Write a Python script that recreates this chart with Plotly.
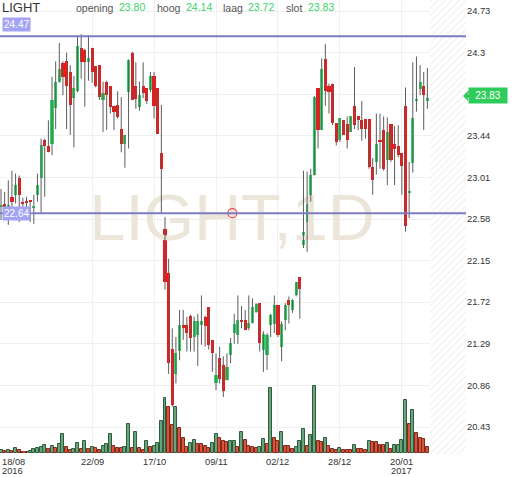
import plotly.graph_objects as go

# ---------------- data ----------------
open_ = [22.71, 22.74, 22.69, 22.81, 22.83, 23.00, 22.76, 22.77, 22.77, 22.70,
         22.83, 23.00, 23.40, 23.33, 23.36, 23.73, 24.00, 24.19, 24.21, 24.10,
         23.83, 23.90, 24.35, 24.33, 24.20, 24.35, 24.16, 24.17, 23.81, 24.00,
         23.95, 23.75, 23.76, 23.51, 23.36, 23.89, 24.30, 23.95, 23.74, 23.95,
         23.93, 23.91, 24.06, 23.93, 23.26, 22.48, 22.02, 21.24, 20.98, 21.22,
         21.48, 21.48, 21.58, 21.36, 21.38, 21.48, 21.57, 21.67, 21.33, 20.88,
         21.14, 21.07, 20.92, 21.17, 21.40, 21.38, 21.54, 21.54, 21.45, 21.51,
         21.62, 21.71, 21.23, 21.17, 21.48, 21.50, 21.69, 21.26, 21.54, 21.74,
         21.64, 21.79, 21.98, 22.31, 22.55, 22.77, 23.04, 23.93, 23.50, 24.23,
         23.95, 23.98, 23.57, 23.40, 23.60, 23.56, 23.48, 23.75, 23.64, 23.60,
         23.61, 23.61, 23.12, 23.17, 23.39, 23.50, 23.19, 23.56, 23.36, 23.33,
         23.26, 23.75, 22.85, 23.16, 23.81, 23.92, 23.96, 23.80]
high = [22.89, 22.86, 22.98, 23.08, 23.05, 23.03, 22.80, 22.81, 22.77, 22.83,
        23.05, 23.41, 23.41, 23.60, 24.05, 24.21, 24.40, 24.21, 24.30, 24.17,
        24.06, 24.48, 24.49, 24.34, 24.48, 24.35, 24.16, 24.17, 24.00, 24.01,
        23.95, 23.75, 23.90, 23.84, 23.45, 24.23, 24.31, 24.20, 24.00, 24.20,
        23.93, 24.10, 24.10, 23.93, 23.76, 22.60, 22.17, 21.45, 21.36, 21.64,
        21.64, 21.57, 21.59, 21.57, 21.60, 21.79, 21.58, 21.67, 21.33, 21.19,
        21.26, 21.16, 21.19, 21.35, 21.60, 21.79, 21.68, 21.64, 21.79, 21.76,
        21.71, 21.71, 21.42, 21.40, 21.60, 21.79, 21.69, 21.52, 21.71, 21.78,
        21.75, 21.93, 21.98, 23.08, 23.07, 23.10, 23.85, 23.93, 24.24, 24.39,
        23.98, 23.98, 23.57, 23.62, 23.60, 23.64, 23.64, 24.15, 23.64, 23.80,
        23.61, 23.61, 23.21, 23.67, 23.67, 23.64, 23.63, 23.56, 23.54, 23.55,
        23.26, 23.94, 23.17, 24.20, 24.26, 24.17, 24.10, 24.14]
low = [22.57, 22.60, 22.52, 22.65, 22.74, 22.55, 22.70, 22.65, 22.55, 22.53,
       22.76, 22.64, 22.81, 23.27, 23.24, 23.51, 23.99, 23.86, 23.51, 23.45,
       23.32, 23.89, 24.03, 23.74, 24.01, 23.99, 23.94, 23.81, 23.48, 23.50,
       23.67, 23.50, 23.62, 23.27, 23.11, 23.31, 23.81, 23.72, 23.70, 23.83,
       23.77, 23.89, 23.62, 23.46, 22.64, 21.85, 20.98, 20.64, 20.88, 21.12,
       21.33, 21.21, 21.21, 21.21, 21.06, 21.28, 21.26, 21.23, 21.00, 20.81,
       20.88, 20.74, 20.91, 21.09, 21.29, 21.29, 21.45, 21.43, 21.43, 21.50,
       21.61, 21.21, 21.00, 21.02, 21.36, 21.40, 21.36, 21.11, 21.43, 21.50,
       21.61, 21.78, 21.55, 22.28, 22.24, 22.76, 23.03, 23.31, 23.50, 23.75,
       23.67, 23.55, 23.34, 23.38, 23.45, 23.31, 23.48, 23.51, 23.50, 23.39,
       23.41, 23.10, 22.83, 23.04, 23.10, 23.08, 22.93, 23.17, 22.93, 23.22,
       22.83, 22.45, 22.59, 23.06, 23.69, 23.86, 23.50, 23.72]
close = [22.73, 22.70, 22.72, 22.76, 22.93, 22.83, 22.74, 22.75, 22.76, 22.71,
         22.93, 23.35, 23.34, 23.27, 23.81, 24.00, 24.13, 24.05, 23.95, 23.76,
         23.93, 24.37, 24.20, 24.20, 24.24, 24.10, 23.96, 23.84, 23.88, 23.86,
         23.74, 23.69, 23.63, 23.36, 23.45, 24.22, 23.81, 23.82, 23.86, 23.88,
         23.80, 24.06, 23.75, 23.46, 23.10, 21.93, 21.09, 20.66, 21.19, 21.48,
         21.46, 21.40, 21.35, 21.53, 21.53, 21.53, 21.47, 21.28, 21.19, 20.97,
         20.93, 20.80, 21.05, 21.30, 21.50, 21.54, 21.52, 21.43, 21.51, 21.67,
         21.70, 21.30, 21.39, 21.38, 21.59, 21.69, 21.38, 21.50, 21.69, 21.69,
         21.74, 21.93, 21.86, 22.45, 22.74, 23.03, 23.84, 23.50, 24.13, 23.90,
         23.89, 23.57, 23.38, 23.62, 23.45, 23.40, 23.64, 23.55, 23.60, 23.51,
         23.51, 23.12, 22.98, 23.36, 23.38, 23.10, 23.48, 23.19, 23.30, 23.24,
         23.13, 22.51, 22.86, 23.62, 23.82, 24.00, 23.86, 23.83]
volume = [3, 2.5, 3, 2, 4.7, 3, 1.5, 1.5, 2, 4,
          5, 5.7, 7.7, 4, 7, 5.3, 9, 19, 6.3, 3,
          4, 10.3, 4, 12.3, 4, 6.3, 4.7, 3, 7, 9,
          19, 7, 4.7, 4.7, 6.3, 29, 4.7, 21.3, 4.7, 3,
          12.3, 6.3, 7, 9.7, 32.3, 54.7, 46.3, 28, 45.7, 24.7,
          14.7, 5.7, 9.7, 13, 9, 9, 7, 4.7, 9.7, 19,
          14.7, 12.3, 11.3, 11.6, 12.3, 6.3, 21.3, 13, 7, 6,
          5, 6.3, 13.7, 9, 64.7, 15.3, 12, 21.3, 7, 7,
          4, 6.3, 12, 23.7, 7, 18, 67.3, 12, 11.3, 14.7,
          7, 4, 3, 5.3, 3, 3, 3, 7.7, 4, 3.7,
          3, 12.3, 11.3, 11.3, 8, 8, 9.7, 4, 8, 8.3,
          13, 53, 29, 43, 19.7, 14.7, 13.7, 6.3]

tick_index = [0, 25, 42, 59, 76, 93, 110]
tick_labels = ["18/08", "22/09", "17/10", "09/11", "02/12", "28/12", "20/01"]
year_labels = {0: "2016", 110: "2017"}
price_ticks = [24.73, 24.3, 23.87, 23.44, 23.01, 22.58, 22.15, 21.72, 21.29, 20.86, 20.43]
level_lines = [24.47, 22.64]
ohlc_header = [("opening", "23.80"), ("hoog", "24.14"), ("laag", "23.72"), ("slot", "23.83")]
symbol = "LIGHT"
watermark = "LIGHT,1D"
last_price = "23.83"

# ---------------- styling ----------------
W, H = 512, 477
PL, PR = 0, 466          # plot area pixel extents
PT, PB = 0, 454
GREEN, RED = "#2fd265", "#ff1111"
VOL_G, VOL_G_LINE = "#67a57d", "#2e5c3d"
VOL_R, VOL_R_LINE = "#d9543a", "#7d2a1c"
FONT = "Liberation Sans, Arial, sans-serif"

def px(x):
    return (x - PL) / (PR - PL)

def py(y):
    return 1 - (y - PT) / (PB - PT)

n = len(close)
idx = list(range(n))
x_range = [-0.275, 127.6]
y_range = [20.151, 24.844]

def xpix(i):
    return PL + (i - x_range[0]) / (x_range[1] - x_range[0]) * (PR - PL)

up = [c >= o for o, c in zip(open_, close)]
body_color = [GREEN if u else RED for u in up]
body_base = [min(o, c) for o, c in zip(open_, close)]
body_h = [max(abs(c - o), 0.012) for o, c in zip(open_, close)]

vol_up = [True] + [volume[i] > volume[i - 1] for i in range(1, n)]
vol_fill = [VOL_G if u else VOL_R for u in vol_up]
vol_line = [VOL_G_LINE if u else VOL_R_LINE for u in vol_up]

wx, wy = [], []
for i in idx:
    wx += [i, i, None]
    wy += [low[i], high[i], None]

fig = go.Figure()

# hatched "future" area (on main axis, drawn first)
fig.add_trace(go.Bar(x=[122.75], y=[460], base=[-3], width=[9.9],
                     marker=dict(color="white", line_width=0,
                                 pattern=dict(shape="/", fgcolor="#e2e2e2", bgcolor="white",
                                              size=5, solidity=0.25)),
                     hoverinfo="skip", showlegend=False))
# volume
fig.add_trace(go.Bar(x=idx, y=volume, width=0.82,
                     marker=dict(color=vol_fill, line=dict(color=vol_line, width=1)),
                     showlegend=False))

# price subplot (overlay)
fig.add_trace(go.Scatter(x=[63.4], y=[22.53], mode="text", text=[watermark],
                         textfont=dict(size=65, color="#ece6da", family=FONT),
                         yaxis="y2", hoverinfo="skip", showlegend=False))
fig.add_trace(go.Scatter(x=wx, y=wy, mode="lines", line=dict(color="#5c5c5c", width=1),
                         yaxis="y2", hoverinfo="skip", showlegend=False))
fig.add_trace(go.Bar(x=idx, y=body_h, base=body_base, width=0.86,
                     marker=dict(color=body_color, line_width=0),
                     yaxis="y2", showlegend=False))
fig.add_trace(go.Scatter(x=[63.5], y=[level_lines[1]], mode="markers",
                         marker=dict(symbol="circle-open", size=9, color="#f04a4a",
                                     line=dict(width=1.2, color="#f04a4a")),
                         yaxis="y2", hoverinfo="skip", showlegend=False))

shapes = []
for lv in level_lines:
    shapes.append(dict(type="line", xref="paper", yref="y2", x0=0, x1=1, y0=lv, y1=lv,
                       line=dict(color="#7c7cc2", width=2), layer="above"))
# pointer of the last price badge
shapes.append(dict(type="path", xref="paper", yref="paper",
                   path=f"M {px(463)} {py(96)} L {px(468)} {py(91)} L {px(468)} {py(101)} Z",
                   fillcolor="#2ecc5a", line_width=0, layer="above"))

ann = []
ann.append(dict(text=symbol, x=px(0), y=py(7.5), xref="paper", yref="paper",
                xanchor="left", yanchor="middle", showarrow=False,
                font=dict(size=13, color="#333333", family=FONT)))
hx = [(74, 117), (155, 184), (221, 246), (284, 306)]
for (lab, val), (x1, x2) in zip(ohlc_header, hx):
    ann.append(dict(text=lab, x=px(x1), y=py(8.5), xref="paper", yref="paper",
                    xanchor="left", yanchor="middle", showarrow=False,
                    font=dict(size=10.5, color="#555555", family=FONT)))
    ann.append(dict(text=val, x=px(x2), y=py(7.5), xref="paper", yref="paper",
                    xanchor="left", yanchor="middle", showarrow=False,
                    font=dict(size=10.5, color="#3ad36a", family=FONT)))
for lv, yc in zip(level_lines, [25, 213.5]):
    ann.append(dict(text=f"{lv:.2f}", x=px(2), y=py(yc), xref="paper", yref="paper",
                    xanchor="left", yanchor="middle", showarrow=False,
                    bgcolor="#a3a3f5", borderpad=1,
                    font=dict(size=10, color="white", family=FONT)))
ann.append(dict(text=last_price, x=px(488), y=py(96), xref="paper", yref="paper",
                xanchor="center", yanchor="middle", showarrow=False, width=36, height=13,
                bgcolor="#2ecc5a", borderpad=1,
                font=dict(size=10, color="white", family=FONT)))
# date labels
for ti, lab in zip(tick_index, tick_labels):
    xc = xpix(ti)
    anchor = "left" if ti == 0 else "center"
    xa = 0 if ti == 0 else xc
    ann.append(dict(text=lab, x=px(xa), y=py(461.5), xref="paper", yref="paper",
                    xanchor=anchor, yanchor="middle", showarrow=False,
                    font=dict(size=9.3, color="#333333", family=FONT)))
    if ti in year_labels:
        ann.append(dict(text=year_labels[ti], x=px(xa), y=py(470.5), xref="paper", yref="paper",
                        xanchor=anchor, yanchor="middle", showarrow=False,
                        font=dict(size=9.3, color="#333333", family=FONT)))

fig.update_layout(
    width=W, height=H, autosize=False,
    margin=dict(l=PL, r=W - PR, t=PT, b=H - PB, pad=0),
    paper_bgcolor="white", plot_bgcolor="white",
    barmode="overlay", bargap=0, showlegend=False,
    font=dict(family=FONT, size=9.5, color="#333333"),
    xaxis=dict(range=x_range, tickvals=tick_index, showticklabels=False,
               showgrid=True, gridcolor="#f0f0f0", gridwidth=1,
               zeroline=False, showline=False, ticks=""),
    yaxis=dict(range=[-1, 453], showgrid=False, zeroline=False,
               showticklabels=False, fixedrange=True),
    yaxis2=dict(range=y_range, overlaying="y", side="right",
                tickvals=price_ticks, ticktext=[str(t) for t in price_ticks],
                showgrid=True, gridcolor="#f0f0f0", gridwidth=1,
                zeroline=False, showline=False, ticks="",
                tickfont=dict(size=9.3, color="#333333")),
    shapes=shapes, annotations=ann,
)

fig.write_html("out.html", config={"displayModeBar": False},
               post_script="document.body.style.margin='0';document.body.style.padding='0';")
